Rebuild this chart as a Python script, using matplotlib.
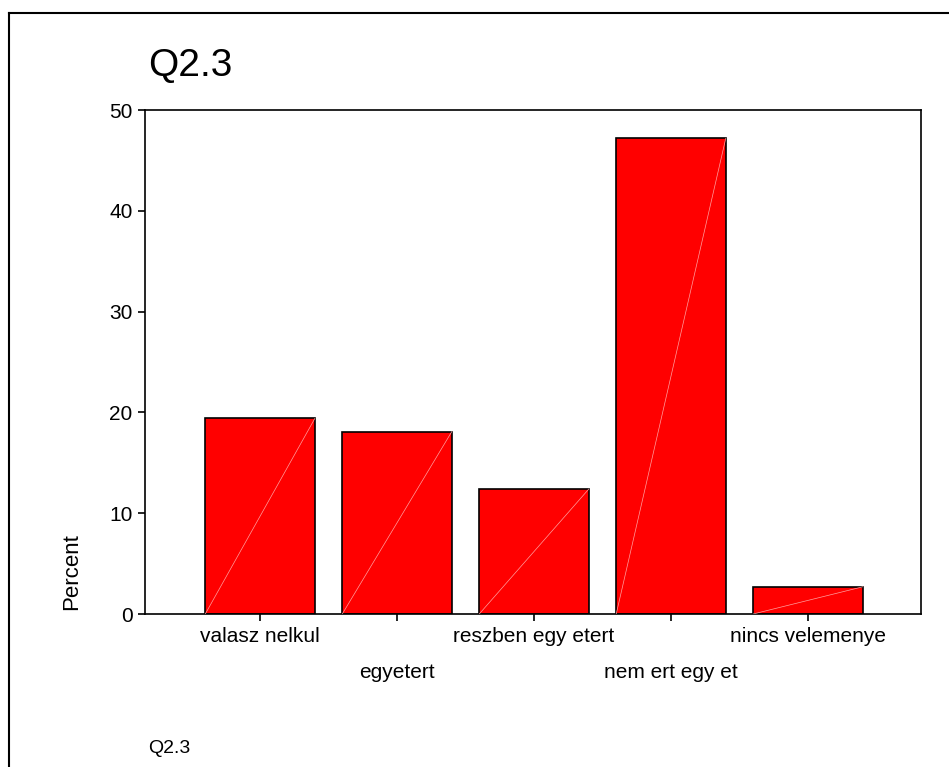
import matplotlib.pyplot as plt
from matplotlib.lines import Line2D

plt.rcParams['font.family'] = ['Liberation Sans', 'DejaVu Sans']

categories = ["valasz nelkul", "egyetert", "reszben egy etert", "nem ert egy et", "nincs velemenye"]
percent = [19.4, 18.1, 12.4, 47.2, 2.7]
yticks = [0, 10, 20, 30, 40, 50]

fig = plt.figure(figsize=(9.49, 7.67), dpi=100)
ax = fig.add_axes([145 / 949, 1 - 614 / 767, 776 / 949, 504 / 767])

pos = list(range(len(categories)))
w = 0.8
ax.bar(pos, percent, width=w, color="#ff0000", edgecolor="black", linewidth=1.2, zorder=2)

# thin white diagonal inside each bar
for x, v in zip(pos, percent):
    ax.plot([x - w / 2, x + w / 2], [0, v], color="#ffa0a0", lw=0.5, zorder=3)

ax.set_xlim(-0.84, 4.825)
ax.set_ylim(0, 50)
ax.set_yticks(yticks)
ax.set_xticks(pos)
ax.set_xticklabels(categories)

for s in ax.spines.values():
    s.set_linewidth(1.2)
ax.tick_params(axis="both", direction="out", length=5, width=1.2, labelsize=15)
ax.tick_params(axis="y", pad=4)
ticks = ax.xaxis.get_major_ticks()
for i, t in enumerate(ticks):
    t.set_pad(4 if i % 2 == 0 else 30)

fig.text(72 / 949, 1 - 572 / 767, "Percent", rotation=90, ha="center", va="center", fontsize=16)
fig.text(148 / 949, 1 - 76 / 767, "Q2.3", ha="left", va="baseline", fontsize=28)
fig.text(148 / 949, 1 - 753 / 767, "Q2.3", ha="left", va="baseline", fontsize=14)

# outer frame (top and left visible)
fig.add_artist(Line2D([9 / 949, 1], [1 - 13 / 767, 1 - 13 / 767], color="black", lw=1.5))
fig.add_artist(Line2D([9 / 949, 9 / 949], [0, 1 - 13 / 767], color="black", lw=1.5))

fig.savefig("out.png", dpi=100)
